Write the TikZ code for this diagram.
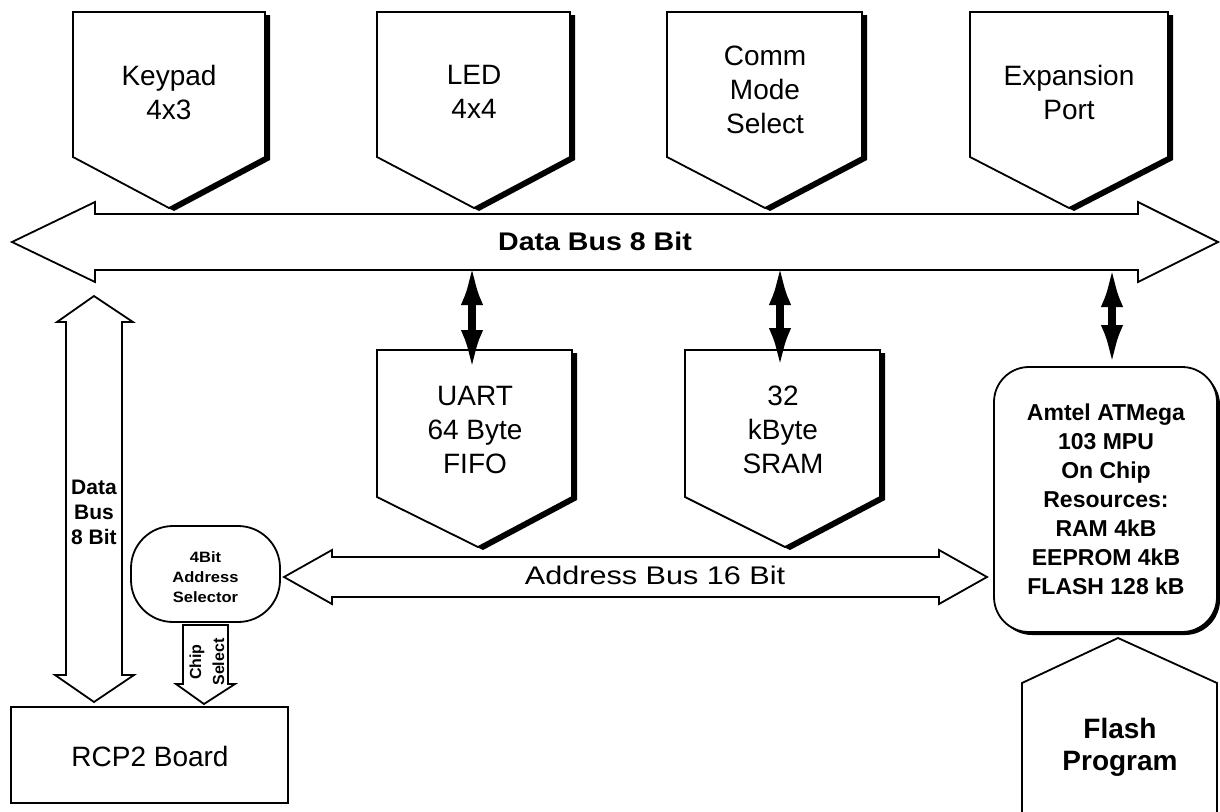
\documentclass[tikz,border=0pt]{standalone}
\usepackage{fontspec}
\setmainfont{Liberation Sans}
\newfontfamily\busfont[FakeStretch=1.12]{Liberation Sans}
\newfontfamily\adrfont[FakeStretch=1.2]{Liberation Sans}
\newfontfamily\selfont[FakeStretch=1.1]{Liberation Sans}
\usetikzlibrary{arrows.meta}
\tikzset{
  boxline/.style={draw=black, line width=1.8pt, fill=white, line join=miter},
  shadowfill/.style={fill=black},
  bigtext/.style={inner sep=0pt, align=center, font=\fontsize{28}{34}\selectfont},
  mputext/.style={inner sep=0pt, align=center, font=\bfseries\fontsize{23}{29}\selectfont},
  flashtext/.style={inner sep=0pt, align=center, font=\bfseries\fontsize{28}{32}\selectfont},
  dbusv/.style={inner sep=0pt, align=center, font=\bfseries\fontsize{21}{25}\selectfont},
  seltext/.style={inner sep=0pt, align=center, font=\selfont\bfseries\fontsize{15}{20}\selectfont},
  chiptext/.style={inner sep=0pt, align=center, font=\bfseries\fontsize{16}{23}\selectfont},
  dblarrow/.style={line width=8pt, {Latex[length=42pt,width=22pt]}-{Latex[length=42pt,width=22pt]}}
}
\newcommand\dpent[6]{%
  \fill[shadowfill, shift={(5,3)}] (#1,#3) -- (#2,#3) -- (#2,#4) -- (#5,#6) -- (#1,#4) -- cycle;
  \draw[boxline] (#1,#3) -- (#2,#3) -- (#2,#4) -- (#5,#6) -- (#1,#4) -- cycle;
}
\begin{document}
\begin{tikzpicture}[x=1pt,y=-1pt]
\useasboundingbox[fill=white] (0,0) rectangle (1220,811);

% top peripheral boxes
\dpent{73}{265}{12}{157}{169}{208}
\node[bigtext] (keypad) at (169,92) {Keypad\\4x3};
\dpent{377}{570}{12}{157}{474}{208}
\node[bigtext] (led) at (474,92) {LED\\4x4};
\dpent{667}{862}{12}{157}{765}{208}
\node[bigtext] (comm) at (765,90) {Comm\\Mode\\Select};
\dpent{970}{1168}{12}{157}{1069}{208}
\node[bigtext] (exp) at (1069,92) {Expansion\\Port};

% data bus 8 bit
\draw[boxline] (12,242) -- (95,202) -- (95,214) -- (1138,214) -- (1138,202) -- (1218,242)
  -- (1138,282) -- (1138,270) -- (95,270) -- (95,282) -- cycle;
\node[inner sep=0pt, font=\busfont\bfseries\fontsize{25.5}{30}\selectfont] (dbus) at (595,241) {Data Bus 8 Bit};

% UART and SRAM
\dpent{377}{572}{350}{497}{478}{547}
\node[bigtext] (uart) at (475,430) {UART\\64 Byte\\FIFO};
\dpent{685}{880}{350}{497}{785}{547}
\node[bigtext] (sram) at (783,430) {32\\kByte\\SRAM};

% MPU
\fill[shadowfill, rounded corners=35pt, shift={(3,3)}] (994,367) rectangle (1217,632);
\draw[boxline, rounded corners=35pt] (994,367) rectangle (1217,632);
\node[mputext] (mpu) at (1106,499) {Amtel ATMega\\103 MPU\\On Chip\\Resources:\\RAM 4kB\\EEPROM 4kB\\FLASH 128 kB};

% flash program
\draw[boxline] (1022,815) -- (1022,683) -- (1118,638) -- (1217,683) -- (1217,815);
\node[flashtext] (flash) at (1120,747) {Flash\\Program};

% address bus
\draw[boxline] (284,577) -- (332,550) -- (332,557) -- (939,557) -- (939,550) -- (987,577)
  -- (939,604) -- (939,597) -- (332,597) -- (332,604) -- cycle;
\node[inner sep=0pt, font=\adrfont\fontsize{25.5}{30}\selectfont] (abus) at (655,575) {Address Bus 16 Bit};

% address selector
\node[draw, line width=1.8pt, rounded corners=42pt, minimum width=149pt, minimum height=96pt, inner sep=0pt] (selbox) at (205.5,574) {};
\node[seltext] (sel) at (205.5,577) {4Bit\\Address\\Selector};

% vertical data bus
\draw[boxline] (94,296) -- (133,322) -- (122,322) -- (122,675) -- (134,675) -- (94,702)
  -- (55,675) -- (66,675) -- (66,322) -- (57,322) -- cycle;
\node[dbusv] (vbus) at (94,512) {Data\\Bus\\8 Bit};

% chip select
\draw[boxline] (183,625) -- (228,625) -- (228,684) -- (235,684) -- (204,704) -- (176,684) -- (183,684) -- cycle;
\node[chiptext, rotate=90] (chip) at (207,662) {Chip\\Select};

% RCP2 board
\draw[boxline, line width=2pt] (11,707) rectangle (288,803);
\node[bigtext] (rcp) at (150,756) {RCP2 Board};

% bidirectional connectors
\coordinate (uartBus) at (472,263);
\coordinate (uartIn) at (472,372);
\coordinate (sramBus) at (780,263);
\coordinate (sramIn) at (780,370);
\coordinate (mpuBus) at (1112,265);
\coordinate (mpuIn) at (1112,367);
\draw[dblarrow] (uartBus) -- (uartIn);
\draw[dblarrow] (sramBus) -- (sramIn);
\draw[dblarrow] (mpuBus) -- (mpuIn);
\end{tikzpicture}
\end{document}
